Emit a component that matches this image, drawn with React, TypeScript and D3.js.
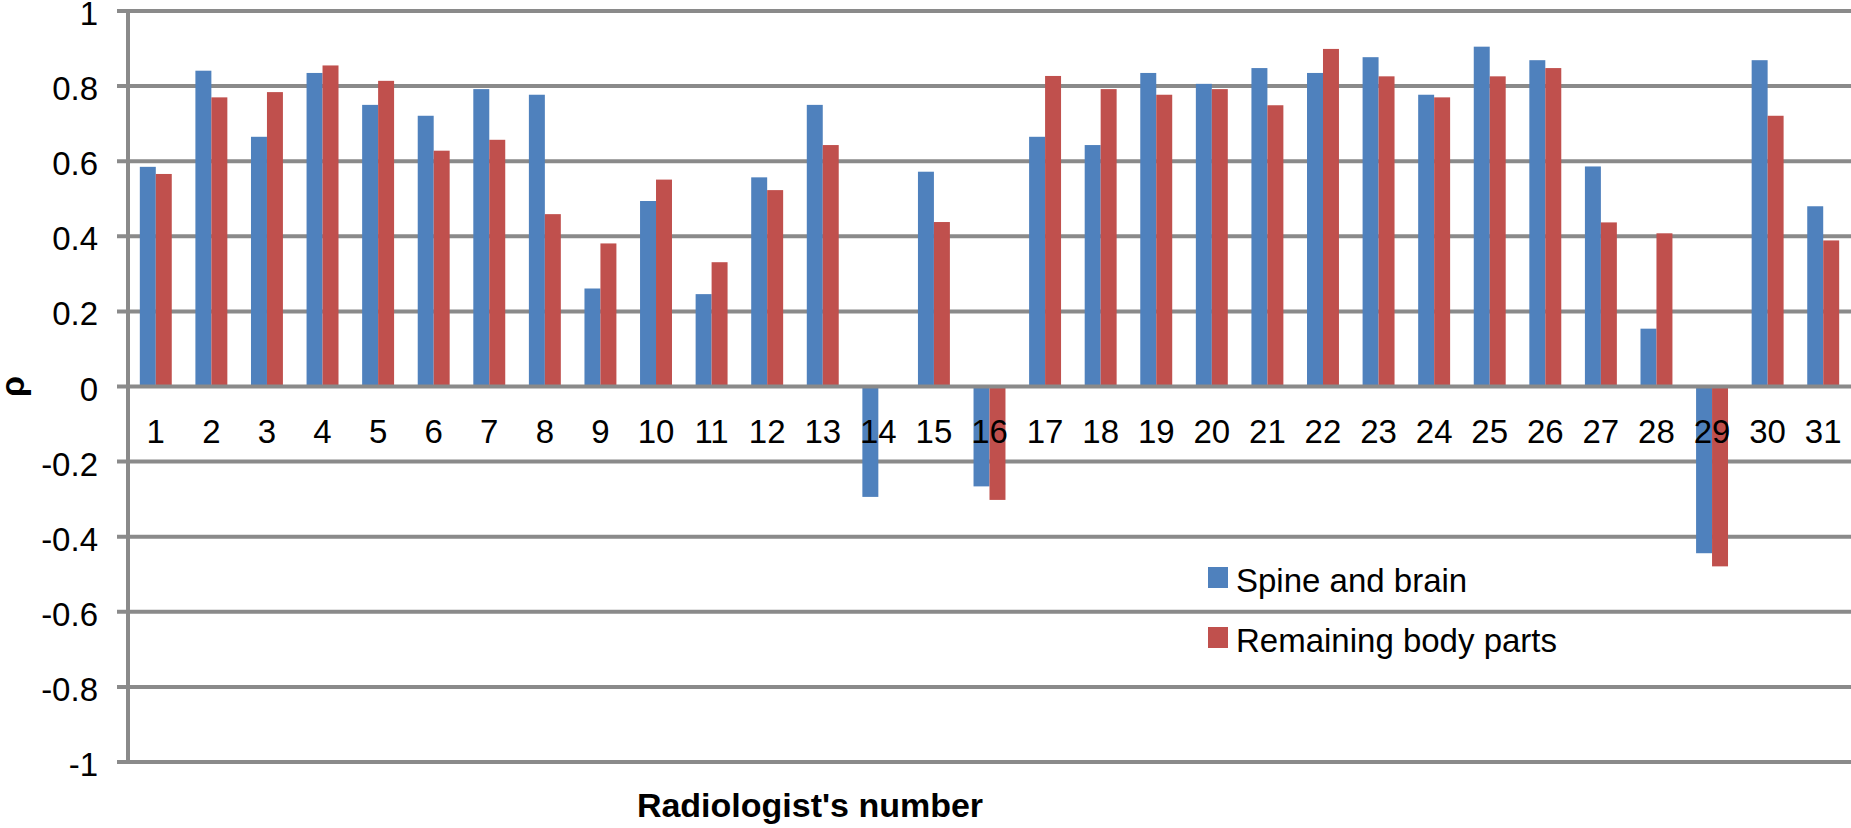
import React, { useRef, useEffect } from "react";
import * as d3 from "d3";

const radiologists = d3.range(1, 32).map(String);

const seriesNames = ["Spine and brain", "Remaining body parts"];

const spineBrain = [
  0.585, 0.841, 0.665, 0.835, 0.75, 0.721, 0.792, 0.777, 0.261, 0.494, 0.246,
  0.557, 0.75, -0.294, 0.572, -0.266, 0.665, 0.643, 0.835, 0.806, 0.848, 0.835,
  0.877, 0.777, 0.905, 0.869, 0.586, 0.154, -0.444, 0.869, 0.48,
];

const remainingParts = [
  0.566, 0.77, 0.784, 0.855, 0.814, 0.628, 0.657, 0.459, 0.381, 0.551, 0.331,
  0.523, 0.643, null, 0.438, -0.302, 0.827, 0.792, 0.777, 0.792, 0.749, 0.899,
  0.826, 0.77, 0.826, 0.848, 0.437, 0.408, -0.479, 0.721, 0.389,
];

const yTicks = [-1, -0.8, -0.6, -0.4, -0.2, 0, 0.2, 0.4, 0.6, 0.8, 1];
const yTickLabels = ["-1", "-0.8", "-0.6", "-0.4", "-0.2", "0", "0.2", "0.4", "0.6", "0.8", "1"];

const colors = ["#4f81bd", "#c0504d"];

const App: React.FC = () => {
  const svgRef = useRef<SVGSVGElement>(null);

  const width = 1851;
  const height = 828;
  const plot = { left: 128, right: 1851, top: 11, bottom: 762 };
  const font = "'Liberation Sans', Arial, Helvetica, sans-serif";
  const gridColor = "#8a8a8a";

  useEffect(() => {
    const svg = d3.select(svgRef.current);
    svg.selectAll("*").remove();

    const x0 = d3
      .scaleBand()
      .domain(radiologists)
      .range([plot.left, plot.right])
      .padding(0);

    const x1 = d3
      .scaleBand()
      .domain(seriesNames)
      .range([0, x0.bandwidth()])
      .paddingInner(0)
      .paddingOuter(0.74);

    const y = d3
      .scaleLinear()
      .domain([-1, 1])
      .range([plot.bottom, plot.top]);

    // horizontal grid lines + tick marks
    svg
      .append("g")
      .selectAll("line")
      .data(yTicks.filter((t) => t !== 0))
      .join("line")
      .attr("x1", plot.left - 11)
      .attr("x2", plot.right)
      .attr("y1", (d) => y(d))
      .attr("y2", (d) => y(d))
      .attr("stroke", gridColor)
      .attr("stroke-width", 4);

    // y tick labels
    svg
      .append("g")
      .selectAll("text")
      .data(yTicks)
      .join("text")
      .attr("x", 98)
      .attr("y", (d) => y(d) + 14)
      .attr("text-anchor", "end")
      .attr("font-family", font)
      .attr("font-size", 33)
      .attr("fill", "#000")
      .text((d, i) => yTickLabels[i]);

    // bars
    const seriesData = [spineBrain, remainingParts];
    seriesData.forEach((vals, si) => {
      svg
        .append("g")
        .attr("fill", colors[si])
        .selectAll("rect")
        .data(vals.map((v, i) => ({ v, cat: radiologists[i] })).filter((d) => d.v !== null))
        .join("rect")
        .attr("x", (d) => x0(d.cat)! + x1(seriesNames[si])!)
        .attr("width", x1.bandwidth())
        .attr("y", (d) => y(Math.max(0, d.v as number)))
        .attr("height", (d) => Math.abs(y(d.v as number) - y(0)));
    });

    // zero line
    svg
      .append("line")
      .attr("x1", plot.left - 11)
      .attr("x2", plot.right)
      .attr("y1", y(0))
      .attr("y2", y(0))
      .attr("stroke", gridColor)
      .attr("stroke-width", 4);

    // vertical axis line
    svg
      .append("line")
      .attr("x1", plot.left)
      .attr("x2", plot.left)
      .attr("y1", plot.top - 2)
      .attr("y2", plot.bottom + 2)
      .attr("stroke", gridColor)
      .attr("stroke-width", 4);

    // x tick labels
    svg
      .append("g")
      .selectAll("text")
      .data(radiologists)
      .join("text")
      .attr("x", (d) => x0(d)! + x0.bandwidth() / 2)
      .attr("y", 443)
      .attr("text-anchor", "middle")
      .attr("font-family", font)
      .attr("font-size", 33)
      .attr("fill", "#000")
      .text((d) => d);

    // axis titles
    svg
      .append("text")
      .attr("x", 810)
      .attr("y", 817)
      .attr("text-anchor", "middle")
      .attr("font-family", font)
      .attr("font-weight", "bold")
      .attr("font-size", 34)
      .text("Radiologist's number");

    svg
      .append("text")
      .attr("transform", `translate(24,${(plot.top + plot.bottom) / 2}) rotate(-90)`)
      .attr("text-anchor", "middle")
      .attr("font-family", font)
      .attr("font-weight", "bold")
      .attr("font-size", 34)
      .text("ρ");

    // legend
    const legend = svg.append("g").attr("transform", "translate(1208,567)");
    seriesNames.forEach((name, i) => {
      const row = legend.append("g").attr("transform", `translate(0,${i * 60})`);
      row
        .append("rect")
        .attr("width", 20)
        .attr("height", 21)
        .attr("fill", colors[i]);
      row
        .append("text")
        .attr("x", 28)
        .attr("y", 25)
        .attr("font-family", font)
        .attr("font-size", 33)
        .attr("fill", "#000")
        .text(name);
    });
  }, []);

  return (
    <div style={{ position: "absolute", left: 0, top: 0, background: "white" }}>
      <svg ref={svgRef} width={width} height={height} style={{ display: "block" }} />
    </div>
  );
};

export default App;
